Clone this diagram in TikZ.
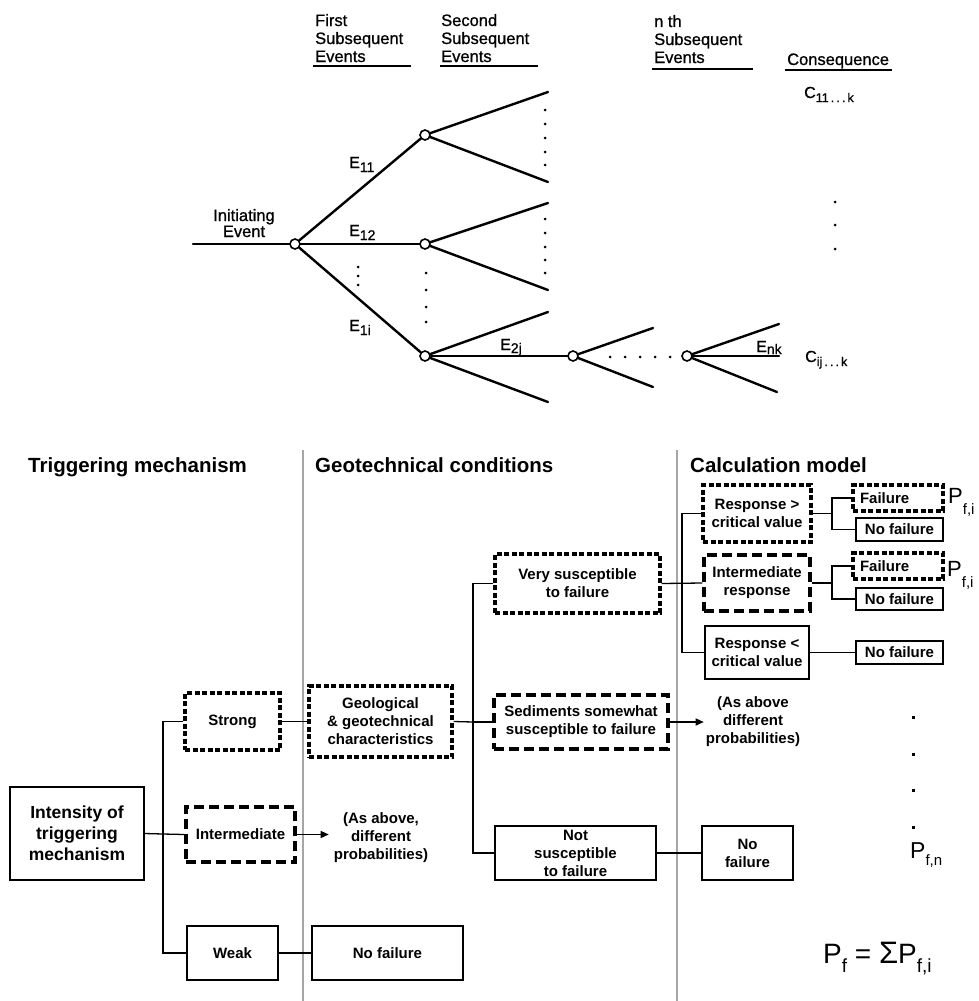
\documentclass[tikz,border=0pt]{standalone}
\usepackage{fontspec}
\setmainfont{Liberation Sans}
% slightly heavier lettering for the event tree
\newfontfamily\letterfont{Liberation Sans}[FakeBold=0.9]
\usetikzlibrary{arrows.meta}

% lowered subscript: drop, size, text
\newcommand\lowsub[3]{\raisebox{-#1pt}{\fontsize{#2}{#2}\selectfont #3}}

\begin{document}
\begin{tikzpicture}[x=1pt,y=-1pt,
  branch/.style={line width=2.4pt, line cap=round},
  evnode/.style={circle, draw, fill=white, line width=1.6pt, minimum size=10pt, inner sep=0pt},
  toptext/.style={font=\letterfont\fontsize{16.5}{18}\selectfont, inner sep=0pt, align=left},
  lbl/.style={font=\letterfont\fontsize{16}{16}\selectfont, inner sep=0pt, anchor=base west},
  rule/.style={line width=2pt},
  box/.style={draw, line width=1.3pt, align=center, inner sep=0pt, font=\bfseries\fontsize{15}{18}\selectfont},
  dotbox/.style={box, line width=3.4pt, dash pattern=on 5pt off 2.5pt},
  dashbox/.style={box, line width=3.2pt, dash pattern=on 10pt off 5pt},
  failbox/.style={dotbox, text width=76pt, inner xsep=7pt, align=left},
  link/.style={line width=1.3pt},
  arrowlink/.style={link, -{Triangle[length=8pt,width=7pt]}},
  header/.style={font=\bfseries\fontsize{20.5}{24}\selectfont, inner sep=0pt, anchor=base west},
  note/.style={font=\bfseries\fontsize{15}{18}\selectfont, align=center, inner sep=0pt},
  divider/.style={line width=1.5pt, black!35},
  bigtext/.style={inner sep=0pt, anchor=base west}
]
\useasboundingbox (0,0) rectangle (978,1001);

% ---------------- event tree ----------------
% column headings (base anchor = baseline of the last line)
\node[toptext, anchor=base west] (hFirst) at (315,62) {First\\Subsequent\\Events};
\node[toptext, anchor=base west] (hSecond) at (441,62) {Second\\Subsequent\\Events};
\node[toptext, anchor=base west] (hNth) at (654,63) {n th\\Subsequent\\Events};
\node[toptext, anchor=base west] (hCons) at (787,65) {Consequence};
\draw[rule] (313,66) -- (411,66);
\draw[rule] (440,66) -- (538,66);
\draw[rule] (652,69) -- (753,69);
\draw[rule] (785,70) -- (892,70);

\node[toptext, align=center, anchor=base, font=\letterfont\fontsize{16.5}{16}\selectfont] (init) at (244,237) {Initiating\\Event};

\coordinate (start) at (193,244);
\node[evnode] (n0) at (295,244) {};
\node[evnode] (n11) at (425,135) {};
\node[evnode] (n12) at (425,244) {};
\node[evnode] (n1i) at (425,356) {};
\node[evnode] (n2j) at (573,356) {};
\node[evnode] (nk) at (687,356) {};

\coordinate (a1) at (548,92);  \coordinate (a2) at (548,182);
\coordinate (b1) at (548,203); \coordinate (b2) at (548,290);
\coordinate (c1) at (548,312); \coordinate (c2) at (548,402);
\coordinate (d1) at (653,328); \coordinate (d2) at (653,387);
\coordinate (e1) at (779,324); \coordinate (e2) at (779,356); \coordinate (e3) at (777,392);

\draw[branch] (start) -- (n0);
\draw[branch] (n0) -- (n11);
\draw[branch] (n0) -- (n12);
\draw[branch] (n0) -- (n1i);
\draw[branch] (n11) -- (a1);
\draw[branch] (n11) -- (a2);
\draw[branch] (n12) -- (b1);
\draw[branch] (n12) -- (b2);
\draw[branch] (n1i) -- (c1);
\draw[branch] (n1i) -- (n2j);
\draw[branch] (n1i) -- (c2);
\draw[branch] (n2j) -- (d1);
\draw[branch] (n2j) -- (d2);
\draw[branch] (nk) -- (e1);
\draw[branch] (nk) -- (e2);
\draw[branch] (nk) -- (e3);

% continuation dots
\foreach \y in {110,124,138,152,165} \fill (545,\y) circle (1.5pt);
\foreach \y in {219,233,247,260,273} \fill (545,\y) circle (1.5pt);
\foreach \y in {273,290,307,322} \fill (426,\y) circle (1.5pt);
\foreach \y in {267,276,285} \fill (358,\y) circle (1.5pt);
\foreach \x in {610,625,640,655,670} \fill (\x,357) circle (1.5pt);
\foreach \y in {202,225,249} \fill (835,\y) circle (1.5pt);

% branch labels
\node[lbl] (E11) at (349,168) {E\lowsub{4}{14}{11}};
\node[lbl] (E12) at (349,236) {E\lowsub{4}{14}{12}};
\node[lbl] (E1i) at (349,331) {E\lowsub{4}{14}{1i}};
\node[lbl] (E2j) at (500,350) {E\lowsub{3}{14}{2j}};
\node[lbl] (Enk) at (756,352) {E\lowsub{2}{14}{nk}};
\node[lbl] (C11) at (804,98) {C\lowsub{4}{12.5}{11\,.\,.\,.\,k}};
\node[lbl] (Cij) at (805,362) {C\lowsub{4}{12.5}{ij\,.\,.\,.\,k}};

% ---------------- probability tree ----------------
\draw[divider] (303,450) -- (303,1001);
\draw[divider] (677,450) -- (677,1001);

\node[header] (hTrig) at (28,472) {Triggering mechanism};
\node[header] (hGeo) at (315,472) {Geotechnical conditions};
\node[header] (hCalc) at (690,472) {Calculation model};

\node[box, font=\bfseries\fontsize{17.5}{21}\selectfont, minimum width=134pt, minimum height=93pt] (intens) at (77,833.5) {Intensity of\\triggering\\mechanism};
\node[dotbox, minimum width=95pt, minimum height=57pt] (strong) at (232.5,721.5) {Strong};
\node[dashbox, minimum width=109pt, minimum height=55pt] (interm) at (240.5,834.5) {Intermediate};
\node[box, minimum width=91pt, minimum height=54pt] (weak) at (232.5,953) {Weak};

\node[dotbox, minimum width=143pt, minimum height=71pt] (geol) at (380.5,721.5) {Geological\\\&~geotechnical\\characteristics};
\node[note, inner xsep=5pt] (asab1) at (381,838) {(As above,\\different\\probabilities)};
\node[box, minimum width=151pt, minimum height=54pt] (nofail1) at (387.5,953) {No failure};

\node[dotbox, minimum width=165pt, minimum height=59pt] (verys) at (577.5,583.5) {Very susceptible\\to failure};
\node[dashbox, minimum width=174pt, minimum height=54pt] (sedim) at (581,722) {Sediments somewhat\\susceptible to failure};
\node[box, minimum width=161pt, minimum height=54pt] (notsus) at (575.5,853) {Not\\susceptible\\to failure};
\node[note, inner xsep=2pt] (asab2) at (753,722) {(As above\\different\\probabilities)};
\node[box, minimum width=91pt, minimum height=54pt] (nofail2) at (747.5,853) {No\\failure};

\node[dotbox, minimum width=108pt, minimum height=57pt] (respgt) at (757,513.5) {Response >\\critical value};
\node[dashbox, minimum width=106pt, minimum height=56pt] (respint) at (757,583) {Intermediate\\response};
\node[box, minimum width=104pt, minimum height=53pt] (resplt) at (757,652.5) {Response <\\critical value};

\node[failbox, minimum height=26pt] (fail1) at (898,498) {Failure};
\node[box, minimum width=87pt, minimum height=23pt] (nofailA) at (899.5,529.5) {No failure};
\node[failbox, minimum height=26pt] (fail2) at (898,566) {Failure};
\node[box, minimum width=87pt, minimum height=22pt] (nofailB) at (899.5,599) {No failure};
\node[box, minimum width=87pt, minimum height=23pt] (nofailC) at (899.5,652.5) {No failure};

\node[bigtext, font=\fontsize{22}{22}\selectfont] (pfi1) at (948,503) {P\lowsub{11}{15}{f,i}};
\node[bigtext, font=\fontsize{22}{22}\selectfont] (pfi2) at (947,576) {P\lowsub{11}{15}{f,i}};
\node[bigtext, font=\fontsize{23}{23}\selectfont] (pfn) at (910,858) {P\lowsub{7}{15}{f,n}};
\foreach \y in {716,753,789,826} \fill (912,\y) rectangle ++(3,3);
\node[bigtext, font=\fontsize{28}{28}\selectfont] (pftot) at (823,963) {P\lowsub{9}{19}{f} = {\fontsize{31}{28}\selectfont Σ}P\lowsub{9}{19}{f,i}};

% connectors: triggering intensity
\coordinate (j1) at (163,834);
\draw[link] (intens.east) -- (j1);
\draw[link] (strong.west) -| (j1) |- (weak.west);
\draw[link] (j1) -- (interm.west);
\draw[link] (strong.east) -- (geol.west);
\draw[arrowlink] (interm.east) -- (interm.east -| asab1.west);
\draw[link] (weak.east) -- (nofail1.west);

% connectors: geotechnical conditions
\coordinate (j2) at (473,722);
\draw[link] (geol.east) -- (j2);
\draw[link] (verys.west) -| (j2) |- (notsus.west);
\draw[link] (j2) -- (sedim.west);
\draw[arrowlink] (sedim.east) -- (asab2.west);
\draw[link] (notsus.east) -- (nofail2.west);

% connectors: calculation model
\coordinate (j3) at (682,583);
\draw[link] (verys.east) -- (respint.west);
\draw[link] (respgt.west) -| (j3) |- (resplt.west);
\coordinate (j4) at (832,513.5);
\draw[link] (respgt.east) -- (j4);
\draw[link] (fail1.west) -| (j4) |- (nofailA.west);
\coordinate (j5) at (832,583);
\draw[link] (respint.east) -- (j5);
\draw[link] (fail2.west) -| (j5) |- (nofailB.west);
\draw[link] (resplt.east) -- (nofailC.west);
\end{tikzpicture}
\end{document}
